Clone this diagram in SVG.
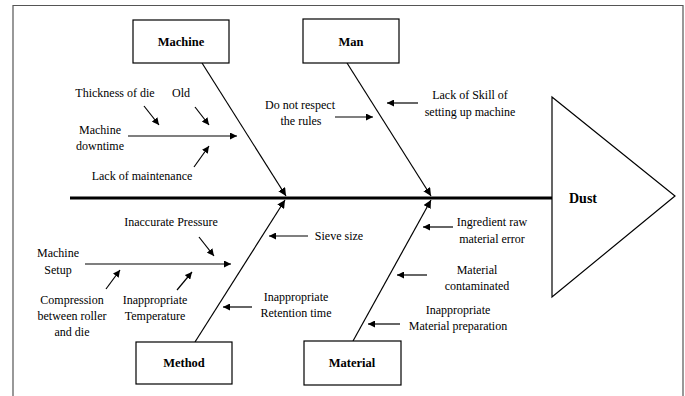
<svg xmlns="http://www.w3.org/2000/svg" width="685" height="396" viewBox="0 0 685 396">
<defs>
<marker id="ah" viewBox="0 0 10 10" refX="10" refY="5" markerWidth="7" markerHeight="7" markerUnits="userSpaceOnUse" orient="auto">
<path d="M0,0 L10,5 L0,10 z" fill="#000"/>
</marker>
<marker id="ahs" viewBox="0 0 10 10" refX="10" refY="5" markerWidth="8" markerHeight="8" markerUnits="userSpaceOnUse" orient="auto">
<path d="M0,0 L10,5 L0,10 z" fill="#000"/>
</marker>
</defs>
<style>
text{font-family:"Liberation Serif","Times New Roman",serif;font-size:12px;fill:#000;}
.t{text-anchor:middle;}
.b{font-weight:bold;text-anchor:middle;font-size:12.5px;}
.box{fill:#fff;stroke:#000;stroke-width:1.2;}
.l{stroke:#000;stroke-width:1.2;fill:none;marker-end:url(#ah);}
.bone{stroke:#000;stroke-width:1.2;fill:none;marker-end:url(#ahs);}
</style>
<rect width="685" height="396" fill="#fff"/>
<path d="M13,396 L13,5.5 L683,5.5 L683,396" fill="none" stroke="#555" stroke-width="1.2"/>

<g id="connectors">
<line x1="70" y1="198" x2="552" y2="198" stroke="#000" stroke-width="3"/>
<line class="bone" x1="202" y1="63" x2="286" y2="196"/>
<line class="bone" x1="347" y1="63" x2="431" y2="196"/>
<line class="bone" x1="195" y1="342" x2="285" y2="200"/>
<line class="bone" x1="353" y1="341" x2="431" y2="200"/>
<line class="l" x1="128" y1="136" x2="237" y2="136"/>
<line class="l" x1="144" y1="106" x2="159" y2="125"/>
<line class="l" x1="195" y1="107" x2="209" y2="125"/>
<line class="l" x1="194" y1="167" x2="209" y2="146"/>
<line class="l" x1="335" y1="117" x2="373" y2="117"/>
<line class="l" x1="418" y1="103" x2="387" y2="103"/>
<line class="l" x1="199" y1="237" x2="214" y2="256"/>
<line class="l" x1="85" y1="264" x2="231" y2="264"/>
<line class="l" x1="106" y1="289" x2="120" y2="270"/>
<line class="l" x1="177" y1="290" x2="192" y2="272"/>
<line class="l" x1="308" y1="236" x2="269" y2="236"/>
<line class="l" x1="252" y1="307" x2="223" y2="307"/>
<line class="l" x1="453" y1="227" x2="423" y2="227"/>
<line class="l" x1="427" y1="275" x2="397" y2="275"/>
<line class="l" x1="400" y1="324" x2="368" y2="324"/>
</g>

<g id="dust">
<path d="M552,97 L675,196 L552,297 Z" fill="#fff" stroke="#000" stroke-width="1.2"/>
<text x="583" y="203" class="b" style="font-size:14px">Dust</text>
</g>

<g id="machine">
<rect class="box" x="133" y="20" width="96" height="43"/>
<text x="181" y="46" class="b">Machine</text>
</g>
<g id="man">
<rect class="box" x="303" y="19" width="96" height="44"/>
<text x="351" y="46" class="b">Man</text>
</g>
<g id="method">
<rect class="box" x="136" y="342" width="96" height="42"/>
<text x="184" y="367" class="b">Method</text>
</g>
<g id="material">
<rect class="box" x="304" y="341" width="97" height="44"/>
<text x="352" y="367" class="b">Material</text>
</g>

<g id="machine-causes">
<text x="115" y="97" class="t">Thickness of die</text>
<text x="181" y="97" class="t">Old</text>
<text x="100" y="134" class="t">Machine</text>
<text x="100" y="150" class="t">downtime</text>
<text x="142" y="180" class="t">Lack of maintenance</text>
</g>
<g id="man-causes">
<text x="300" y="109" class="t">Do not respect</text>
<text x="301" y="125" class="t">the rules</text>
<text x="470" y="99" class="t">Lack of Skill of</text>
<text x="470" y="116" class="t">setting up machine</text>
</g>
<g id="method-causes">
<text x="171" y="226" class="t">Inaccurate Pressure</text>
<text x="58" y="257" class="t">Machine</text>
<text x="58" y="274" class="t">Setup</text>
<text x="72" y="304" class="t">Compression</text>
<text x="72" y="320" class="t">between roller</text>
<text x="72" y="336" class="t">and die</text>
<text x="155" y="304" class="t">Inappropriate</text>
<text x="155" y="320" class="t">Temperature</text>
<text x="339" y="240" class="t">Sieve size</text>
<text x="296" y="301" class="t">Inappropriate</text>
<text x="296" y="317" class="t">Retention time</text>
</g>
<g id="material-causes">
<text x="492" y="226" class="t">Ingredient raw</text>
<text x="492" y="243" class="t">material error</text>
<text x="477" y="274" class="t">Material</text>
<text x="477" y="290" class="t">contaminated</text>
<text x="458" y="314" class="t">Inappropriate</text>
<text x="458" y="330" class="t">Material preparation</text>
</g>
</svg>
